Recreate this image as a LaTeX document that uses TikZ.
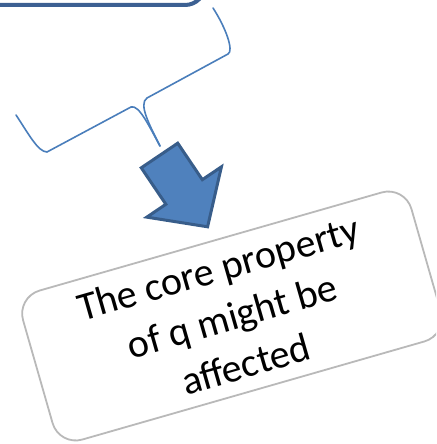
\documentclass[tikz,border=0pt]{standalone}
\usepackage{fontspec}
\setmainfont{Carlito}
\usepackage{xcolor}
\usepackage{tikz}
\definecolor{boxblue}{RGB}{60,96,146}
\definecolor{bracketblue}{RGB}{74,126,187}
\definecolor{arrowfill}{RGB}{79,129,189}
\definecolor{arrowline}{RGB}{56,93,138}

\begin{document}
\begin{tikzpicture}[x=1pt,y=-1pt,
  bracket/.style={draw=bracketblue,line width=1.6pt,line join=round,line cap=round},
  notebox/.style={draw=gray!55,line width=1.8pt,rounded corners=24pt,fill=white,align=center,
    minimum width=404pt,minimum height=155pt,font=\fontsize{40}{50}\selectfont}]
\useasboundingbox (0,0) rectangle (436,444);
\clip (0,0) rectangle (436,444);
% box above, only its lower edge is in view
\node[draw=boxblue,line width=4pt,rounded corners=20pt,minimum width=300pt,minimum height=100pt,anchor=south east] (src) at (207,7) {};
% curly bracket under it
\draw[bracket] (16,115) .. controls (28,133) and (38,152) .. (47,152) -- (131,107)
  .. controls (139,104) and (150,128) .. (160,146);
\draw[bracket] (160,146) .. controls (150,126) and (138,104) .. (147,98) -- (228,54)
  .. controls (234,51) and (226,28) .. (213,8);
% block arrow
\begin{scope}[shift={(159.5,155.5)},rotate=-56]
\draw[fill=arrowfill,draw=arrowline,line width=3pt] (0,22) -- (44,22) -- (44,45) -- (86,0) -- (44,-45) -- (44,-22) -- (0,-22) -- cycle;
\end{scope}
\node[notebox,rotate=16] (note) at (232,316) {The core property\\of q might be\\affected};
\end{tikzpicture}
\end{document}
